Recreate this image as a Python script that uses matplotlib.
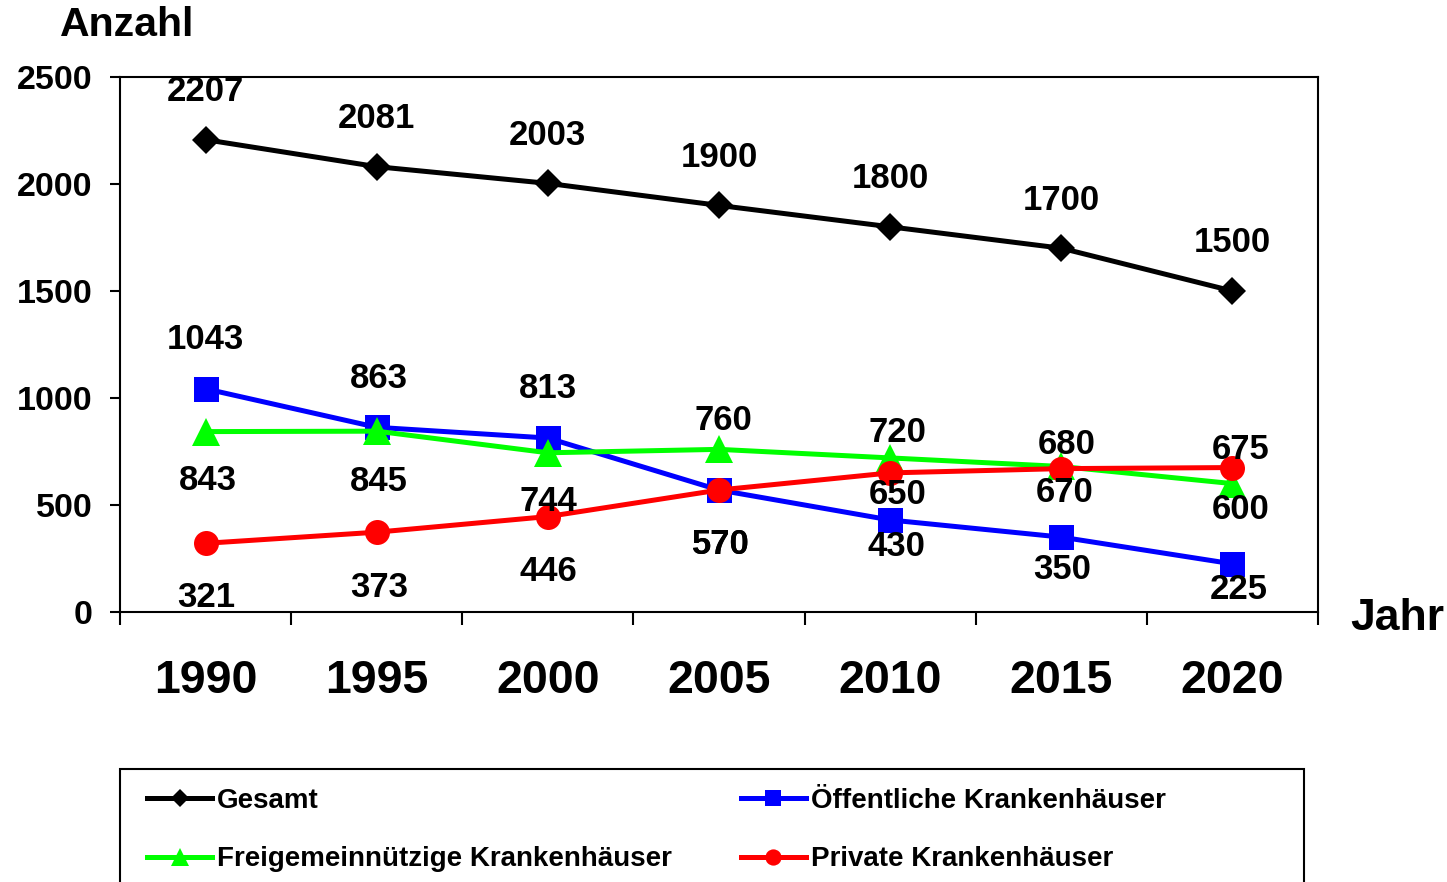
import numpy as np
import matplotlib.pyplot as plt
from matplotlib.lines import Line2D
from matplotlib.patches import Rectangle

plt.rcParams['font.family'] = ['Liberation Sans', 'DejaVu Sans']
plt.rcParams['font.weight'] = 'bold'

# Daten
jahre = ['1990', '1995', '2000', '2005', '2010', '2015', '2020']
gesamt = [2207, 2081, 2003, 1900, 1800, 1700, 1500]
oeffentlich = [1043, 863, 813, 570, 430, 350, 225]
freigemeinnuetzig = [843, 845, 744, 760, 720, 680, 600]
privat = [321, 373, 446, 570, 650, 670, 675]
namen = ['Gesamt', 'Öffentliche Krankenhäuser',
         'Freigemeinnützige Krankenhäuser', 'Private Krankenhäuser']

# Beschriftungs-Versatz in Pixeln (dx, dy), wie im Original von Hand verschoben
versatz_gesamt = [(0, 48)] * 7
versatz_oeff = [(0, 49), (2, 49), (0, 50), (2, -54), (6, -27), (1, -32), (6, -26)]
versatz_frei = [(2, -49), (2, -50), (1, -49), (4, 29), (7, 25), (5, 22), (8, -26)]
versatz_privat = [(1, -54), (2, -55), (1, -55), (2, -54), (7, -22), (3, -24), (8, 18)]

W, H = 1447, 882
fig = plt.figure(figsize=(W / 100, H / 100), dpi=100)
ax = fig.add_axes([120 / W, 1 - 612 / H, 1198 / W, 535 / H])

x = np.arange(len(jahre))
serien = [
    (gesamt, 'black', 'D', 14, versatz_gesamt),
    (oeffentlich, '#0000FF', 's', 18, versatz_oeff),
    (freigemeinnuetzig, '#00FF00', '^', 20, versatz_frei),
    (privat, '#FF0000', 'o', 18, versatz_privat),
]
for werte, farbe, marker, ms, versatz in serien:
    ax.plot(x, werte, color=farbe, marker=marker, markersize=ms, linewidth=3.6,
            markeredgewidth=0, clip_on=False)
for werte, farbe, marker, ms, versatz in serien:
    for xi, wi, (dx, dy) in zip(x, werte, versatz):
        ax.annotate(str(wi), (xi, wi), xytext=(dx, dy), textcoords='offset pixels',
                    ha='center', va='center', fontsize=25, fontweight='bold')

ax.set_xlim(-0.5, 6.5)
ax.set_ylim(0, 2500)
ax.set_xticks(np.arange(-0.5, 7, 1))
ax.set_xticklabels([])
ax.set_xticks(x, jahre, minor=True)
ax.tick_params(axis='x', which='major', length=9, width=1.5)
ax.tick_params(axis='x', which='minor', length=0, pad=34, labelsize=33.5)
ax.set_yticks(np.arange(0, 2501, 500))
ax.tick_params(axis='y', length=7.5, width=1.5, pad=12.5, labelsize=24.5)
for s in ax.spines.values():
    s.set_linewidth(1.5)

fig.text(60 / W, 1 - 25 / H, 'Anzahl', ha='left', va='center', fontsize=29.5, fontweight='bold')
fig.text(1350 / W, 1 - 619 / H, 'Jahr', ha='left', va='center', fontsize=32, fontweight='bold')

# Legende
griffe = [Line2D([], [], color=f, marker=m, markersize=ms * 0.65, linewidth=3.6, markeredgewidth=0)
          for _, f, m, ms, _ in serien]
reihenfolge = [0, 2, 1, 3]
fig.legend([griffe[i] for i in reihenfolge], [namen[i] for i in reihenfolge],
           ncol=2, loc='upper left', bbox_to_anchor=(147 / W, 1 - 788 / H),
           frameon=False, fontsize=20, handlelength=2.34, handletextpad=0.18,
           columnspacing=2.48, labelspacing=1.16, borderpad=0, borderaxespad=0)
fig.add_artist(Rectangle((120 / W, -0.05), (1304 - 120) / W, 0.05 + 1 - 769 / H,
                         transform=fig.transFigure, fill=False, edgecolor='black',
                         linewidth=1.5))

fig.savefig('out.png', dpi=100)
